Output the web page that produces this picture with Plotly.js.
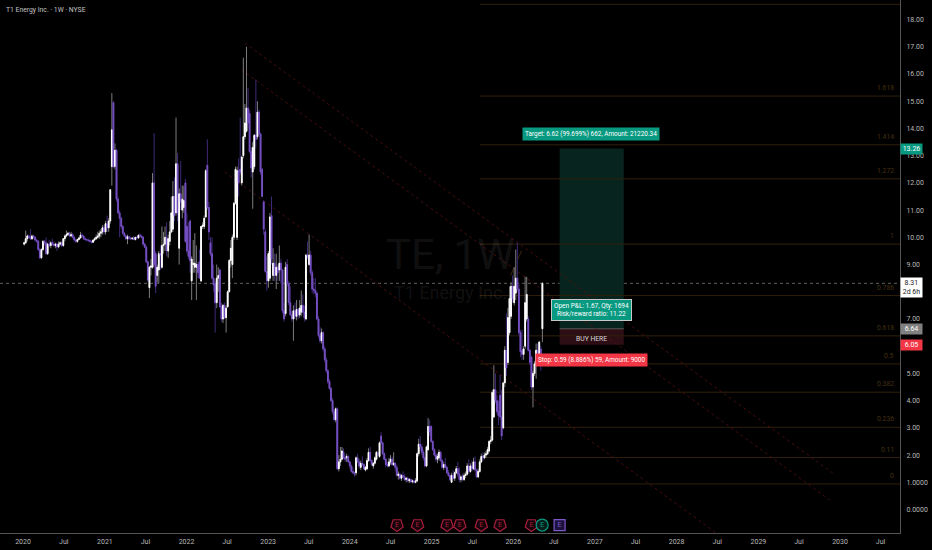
<!DOCTYPE html>
<html>
<head>
<meta charset="utf-8">
<title>T1 Energy Inc. - 1W - NYSE</title>
<script src="https://cdn.plot.ly/plotly-3.0.1.min.js"></script>
<style>
  html, body { margin: 0; padding: 0; background: #000; overflow: hidden; }
  #chart { width: 932px; height: 550px; }
</style>
</head>
<body>
<div id="chart"></div>
<script>
// Weekly candles, first one in the week of 2020-01-06
var firstWeek = '2020-01-06';

var opens = [
  9.75,9.8,9.95,10.05,10,9.95,10.05,10,9.9,9.85,
  9.55,9.25,9.55,9.85,9.8,9.4,9.75,9.7,9.8,9.75,
  9.7,9.75,9.65,9.75,9.8,9.7,9.95,10.05,10.1,10.15,
  10.05,10.1,10,9.9,9.85,9.92,9.98,10.08,10.05,9.95,
  9.92,9.9,9.88,9.85,9.82,9.9,9.95,10,10.05,10.15,
  10.2,10.35,10.2,10.5,10.35,10.6,12.6,14.95,12.6,13.2,
  11.4,10.9,10.7,10.4,10.15,10.05,9.95,10.02,9.98,9.95,
  9.97,9.92,10,9.98,10.08,10.05,10,9.75,9.64,9.1,
  8.15,8.9,8.9,12,9.4,8.6,8.8,9.4,8.9,9.7,
  9.75,10,9.5,9.85,10.2,10.3,11.5,10.9,12.7,9.6,
  11.6,11,11.1,12,10.4,9.5,10.6,8.4,9,8.9,
  8.9,9,9.1,8.4,10.4,10.4,10.75,12.65,11.1,9.8,
  9.4,8.5,8.3,7.6,8.5,8.8,7.45,7,7.5,7.05,
  7.45,8,9.15,9,10,11.25,10,12.45,12.5,12,
  13,13.7,13.9,14.75,14.55,13.15,12.4,12.6,13.75,13.7,
  14.6,13.8,12.5,11.3,10.2,8.75,8.4,8.5,10.8,8.6,
  9.05,8.6,8.9,8.8,9.05,8.8,7.3,7.2,9,8.3,
  7.6,7.15,7,7.3,7.1,7.35,7.15,7.25,7.5,7.25,
  7,9.35,9,9.35,8.7,8.1,8.05,7.95,7,6.4,
  6.2,6.5,5.9,5.5,5.1,4.7,4.45,4,3.6,3.3,
  3.7,1.5,1.75,1.85,2.1,1.9,1.9,1.95,1.75,1.6,
  1.4,1.35,1.35,1.9,1.75,1.55,1.7,1.65,1.45,1.5,
  1.8,2.1,1.8,1.6,1.7,1.85,2.05,1.95,2.7,2.45,
  2.05,1.85,1.65,1.6,1.75,1.85,1.65,1.7,1.55,1.25,
  1.3,1.15,1.25,1.2,1.1,1.15,1.05,1.1,1.02,1.05,
  1,1.05,2.05,2.4,2.3,2.1,1.9,1.6,2.2,3.05,
  3.05,2.5,2.2,2,1.85,1.9,2.1,1.8,1.55,1.65,
  1.55,1.35,1.25,1,1.25,1.15,1.35,1.5,1.3,1.1,
  1.2,1.1,1.25,1.3,1.6,1.4,1.6,1.5,1.75,1.45,
  1.2,1.4,1.75,1.95,1.9,2,2.05,2.15,2.5,2.55,
  3.4,4.4,4,3.6,4.2,3.4,3,4.65,5.85,5.4,
  6.5,7.1,8.2,7.6,7.95,8.5,8.1,6.5,5.85,5.7,
  6,7,7,5.85,5.6,4.5,5,5.3,5.85,5.6,
  5.9,6.64
];
var highs = [
  9.85,10.25,10.1,10.1,10.3,10.1,10.1,10.05,9.95,9.9,
  9.6,9.6,9.9,9.9,10,9.8,9.9,9.85,9.95,9.85,
  9.8,9.8,9.85,9.85,9.85,9.95,10.1,10.25,10.2,10.2,
  10.2,10.15,10.05,9.95,9.95,10,10.2,10.15,10.08,10,
  9.95,9.95,9.92,9.88,9.92,10,10.1,10.2,10.25,10.3,
  10.45,10.45,10.6,10.8,10.7,11.75,15.3,15,13.45,13.25,
  11.5,11,10.75,10.45,10.2,10.1,10.1,10.05,10.02,10,
  10.05,10.02,10.05,10.1,10.15,10.1,10.05,9.8,9.7,9.15,
  8.95,9.2,12.36,13.83,9.5,9,9.5,9.7,10.4,10.2,
  10.4,10.55,10.1,10.6,11.5,12.07,12.2,14.4,13.1,11.8,
  12.8,11.9,11.9,12.15,10.9,10.55,10.65,9.3,9.9,10.15,
  9.7,9.1,9.55,10.4,10.55,10.8,12.5,13.6,11.3,10,
  10,9,8.4,9,8.9,8.85,7.6,7.55,7.6,7.5,
  8.05,9.2,9.9,10.1,11.3,12.6,12.6,12.9,14.4,13,
  16.6,14.9,17,15.5,14.7,13.3,13.5,13.8,15.8,15,
  14.7,13.85,12.55,11.35,10.3,9.3,9.5,10.9,11.5,9.6,
  9.4,9.4,9,9.7,9.2,8.85,7.6,9.1,9.2,8.4,
  8.2,7.3,7.5,7.6,7.7,7.4,7.7,8.05,7.9,7.5,
  9.4,9.85,10.1,9.5,8.8,8.5,8.5,8,7.1,6.7,
  6.65,6.55,6,5.6,5.15,4.8,4.5,4.1,3.7,3.75,
  3.75,2,2.3,2.3,2.25,2,2.05,2,1.8,1.65,
  1.55,1.4,1.95,2.05,1.85,1.8,1.95,1.7,1.6,1.9,
  2.25,2.3,1.85,1.75,1.95,2.15,2.15,2.5,2.85,2.5,
  2.1,1.9,1.75,1.9,2,1.95,2.1,1.75,1.65,1.4,
  1.35,1.3,1.4,1.3,1.2,1.2,1.15,1.15,1.1,1.1,
  1.15,2.1,2.6,2.7,2.4,2.2,1.95,2.35,3.36,3.3,
  3.1,2.55,2.25,2.1,2.05,2.2,2.15,1.85,1.75,1.9,
  1.6,1.45,1.3,1.35,1.45,1.4,1.6,1.75,1.55,1.25,
  1.3,1.35,1.4,1.7,1.85,1.7,1.8,1.9,1.95,1.5,
  1.5,1.85,2.05,2.1,2.1,2.15,2.3,2.55,2.7,4.4,
  5.3,5,4.2,4,4.95,4.4,4.7,6,7.2,7.4,
  8.2,8.35,8.6,8.9,9.55,9.8,8.3,6.6,6.6,6,
  8.55,8.55,7.1,5.9,5.65,5.1,5.45,6.1,6.1,6.2,
  6,8.35
];
var lows = [
  9.7,9.75,9.85,9.95,9.9,9.9,9.95,9.85,9.8,9.5,
  9.2,9.2,9.5,9.7,9.35,9.35,9.65,9.6,9.7,9.65,
  9.6,9.5,9.6,9.7,9.65,9.65,9.85,10,10.05,10,
  10,9.95,9.85,9.8,9.8,9.9,9.95,10,9.9,9.88,
  9.85,9.84,9.8,9.78,9.8,9.85,9.9,9.95,9.95,10,
  10.1,10.1,10.1,10.2,10.2,10.5,11.9,12.55,12.5,11.3,
  10.85,10,10.3,10.1,10,9.9,9.75,9.9,9.9,9.9,
  9.9,9.88,9.92,9.95,10,9.95,9.7,9.6,9.05,8.35,
  7.77,8.6,8.85,8.9,7.95,8.35,8.3,8.8,8.85,9.4,
  9.5,9.3,9.25,9.7,10.15,10.2,10.6,10.8,10.6,9,
  11,10.7,10.9,9.8,9.4,9.2,8.7,7.7,8.7,8.7,
  7.7,8.5,8.5,8.35,10.3,10.3,10.7,11,9.9,9.3,
  8.45,8,6.5,7.4,8,7.4,6.9,6.85,7,6.5,
  7.4,8,8.9,8.5,9.9,11.2,9.9,11.5,12.3,11.9,
  12.9,13.6,13.85,14,13.1,12.2,11.05,12.5,13.3,13.6,
  13.7,12.3,11.5,10.1,8.7,8.05,8.15,8.4,9,8.4,
  8.4,8.1,8.4,8.4,8.3,7.2,6.9,7.1,8.2,7.5,
  7.1,6.9,6.2,7,6.95,7,7.05,7.1,7.2,6.9,
  6.95,9.2,8.95,8.6,7.95,7.9,7.8,6.95,6.3,6.1,
  6.1,5.8,5.4,5,4.6,4.4,3.95,3.5,3.25,3.2,
  1.45,1.4,1.6,1.8,1.85,1.75,1.75,1.7,1.5,1.35,
  1.3,1.2,1.25,1.7,1.5,1.45,1.6,1.45,1.4,1.45,
  1.75,1.75,1.6,1.5,1.65,1.8,1.95,1.9,2.4,2,
  1.8,1.55,1.55,1.55,1.65,1.6,1.6,1.4,1.2,1.1,
  1.1,1.05,1.15,1.05,1,1,0.97,0.98,0.96,0.97,
  0.96,1,1.95,2.15,2,1.8,1.55,1.55,2.15,2.7,
  2.45,2.15,1.95,1.75,1.7,1.8,1.75,1.5,1.45,1.5,
  1.3,1.2,1.05,0.97,1.1,1.05,1.3,1.2,1,1,
  1.05,1.05,1.15,1.25,1.3,1.35,1.4,1.45,1.4,1.15,
  1.15,1.35,1.7,1.8,1.85,1.9,2,2.1,2.4,2.5,
  3.35,3.9,3.5,3.1,3.3,2.55,2.95,4.5,4.9,5.3,
  6.4,7,7.6,7.5,7.7,8,6.4,5.6,5.5,5.5,
  5.9,6.9,5.8,5.3,4.4,3.75,4.9,4.8,5.5,5.5,
  5.1,6.15
];
var closes = [
  9.8,9.95,10.05,10,9.95,10.05,10,9.9,9.85,9.55,
  9.25,9.55,9.85,9.8,9.4,9.75,9.7,9.8,9.75,9.7,
  9.75,9.65,9.75,9.8,9.7,9.95,10.05,10.1,10.15,10.05,
  10.1,10,9.9,9.85,9.92,9.98,10.08,10.05,9.95,9.92,
  9.9,9.88,9.85,9.82,9.9,9.95,10,10.05,10.15,10.2,
  10.35,10.2,10.5,10.35,10.6,11.75,13.95,12.6,13.2,11.4,
  10.9,10.7,10.4,10.15,10.05,9.95,10.02,9.98,9.95,9.97,
  9.92,10,9.98,10.08,10.05,10,9.75,9.64,9.1,8.43,
  8.9,8.95,12,9,8.2,8.9,9.4,9.35,9.7,9.75,
  10,9.5,9.95,10.2,10.9,11.5,10.8,12.7,10.9,11.6,
  11.3,11.4,11.35,9.85,9.5,9.3,9.15,9.2,9.05,9.05,
  9,8.7,8.5,10.4,10.45,10.7,12.45,11.1,10.2,9.4,
  8.5,8.25,7.6,8.5,8.6,7.45,7,7.5,7.05,7.4,
  8,9.15,9.6,10,11.25,12.5,12.45,12,12.4,12.95,
  13.7,14.2,14.75,14.2,13.15,12.55,13.3,13.75,13.6,14.6,
  13.8,12.4,11.5,10.3,8.75,8.4,9.4,10.75,9.2,9.05,
  8.6,8.9,8.7,9.05,8.8,7.3,7,8.9,8.3,7.6,
  7.15,7,7.3,7.1,7.35,7.15,7.4,7.5,7.25,7.05,
  9.35,9.3,9.35,8.7,8.1,8.05,7.95,7,6.4,6.2,
  6.5,5.9,5.5,5.1,4.7,4.45,4,3.6,3.3,3.7,
  1.5,1.75,1.85,2.15,1.9,1.85,1.95,1.75,1.6,1.4,
  1.35,1.3,1.9,1.75,1.6,1.7,1.65,1.5,1.55,1.8,
  2.1,1.8,1.65,1.7,1.9,2.1,2.05,2.45,2.45,2.05,
  1.85,1.65,1.6,1.75,1.85,1.65,1.7,1.55,1.25,1.3,
  1.15,1.25,1.2,1.1,1.15,1.05,1.1,1.02,1.05,1,
  1.05,2.05,2.4,2.3,2.1,1.9,1.6,2.3,3.05,2.85,
  2.5,2.2,2,1.85,1.95,2.1,1.8,1.55,1.65,1.55,
  1.35,1.25,1.1,1.25,1.15,1.35,1.5,1.3,1.1,1.2,
  1.1,1.25,1.3,1.6,1.4,1.6,1.5,1.75,1.45,1.2,
  1.4,1.75,1.95,1.9,2,2.05,2.2,2.5,2.55,4.3,
  4.4,4,3.6,3.45,3.4,2.7,4.65,5.85,5.2,7.05,
  7.75,8.2,7.75,8.2,8.5,8.1,6.5,5.8,5.7,5.9,
  7.6,7.9,5.85,5.4,4.5,5,5.35,5.85,5.6,6.15,
  5.3,8.31
];

// Axis ticks (8.00 and 6.00 sit behind the price tags in the reference)
var yTickVals = [18,17,16,15,14,13,12,11,10,9,7,5,4,3,2,1,0];
var yTickText = ['18.00','17.00','16.00','15.00','14.00','13.00','12.00','11.00','10.00','9.00','7.00','5.00','4.00','3.00','2.00','1.0000','0.0000'];
var xTickVals = ['2020-01-01','2020-07-01','2021-01-01','2021-07-01','2022-01-01','2022-07-01','2023-01-01','2023-07-01','2024-01-01','2024-07-01','2025-01-01','2025-07-01','2026-01-01','2026-07-01','2027-01-01','2027-07-01','2028-01-01','2028-07-01','2029-01-01','2029-07-01','2030-01-01','2030-07-01'];
var xTickText = ['2020','Jul','2021','Jul','2022','Jul','2023','Jul','2024','Jul','2025','Jul','2026','Jul','2027','Jul','2028','Jul','2029','Jul','2030','Jul'];

// Fib retracement
var fibRatios = ['', '1.618', '1.414', '1.272', '1', '0.786', '0.618', '0.5', '0.382', '0.236', '0.11', '0'];
var fibPrices = [18.56, 15.19, 13.4, 12.15, 9.75, 7.86, 6.38, 5.35, 4.31, 3.02, 1.91, 0.94];

// Falling channel lines: start and end of each
var channelStart = ['2022-09-18', '2022-09-05', '2022-06-20'];
var channelStartPrice = [17.14, 16.15, 12.4];
var channelEnd = ['2029-11-29', '2029-11-16', '2028-06-25'];
var channelEndPrice = [1.34, 0.35, -0.86];

// Long position tool
var entryPrice = 6.64, targetPrice = 13.26, stopPrice = 6.05, lastPrice = 8.31;
var positionFrom = '2026-07-27', positionTo = '2027-05-10';

// Earnings markers
var earningsDates = ['2024-07-30','2024-10-30','2025-03-11','2025-05-07','2025-08-11','2025-11-03','2026-03-23'];
var dividendDate = ['2026-05-10'], nextEarningsDate = ['2026-07-27'];
var markerPrice = -0.57;

var FONT = 'Roboto, "Liberation Sans", sans-serif';

var weeks = [];
var d = new Date(firstWeek + 'T00:00:00Z');
for (var i = 0; i < closes.length; i++) {
  weeks.push(d.toISOString().slice(0, 10));
  d = new Date(d.getTime() + 7 * 86400000);
}

// Wicks are dimmer than the bodies, so two candle traces on top of each other
var wickTrace = {
  type: 'candlestick', x: weeks, open: opens, high: highs, low: lows, close: closes,
  whiskerwidth: 0, hoverinfo: 'skip', showlegend: false,
  increasing: { line: { color: '#7c7c7c', width: 1 }, fillcolor: '#7c7c7c' },
  decreasing: { line: { color: '#3f2a78', width: 1 }, fillcolor: '#3f2a78' }
};
var bodyTrace = {
  type: 'candlestick', x: weeks, open: opens, close: closes,
  high: opens.map(function (o, k) { return Math.max(o, closes[k]); }),
  low: opens.map(function (o, k) { return Math.min(o, closes[k]); }),
  whiskerwidth: 0, hoverinfo: 'skip', showlegend: false,
  increasing: { line: { color: '#ffffff', width: 1 }, fillcolor: '#ffffff' },
  decreasing: { line: { color: '#7650c0', width: 1 }, fillcolor: '#7650c0' }
};

function earningsTrace(x, symbol, color, fill, size) {
  return {
    type: 'scatter', mode: 'markers+text', x: x, y: x.map(function () { return markerPrice; }),
    text: x.map(function () { return 'E'; }), textposition: 'middle center',
    textfont: { family: FONT, size: 7, color: color },
    marker: { symbol: symbol, size: size, color: fill, angle: symbol.indexOf('pentagon') === 0 ? 180 : 0, line: { color: color, width: 1.2 } },
    hoverinfo: 'skip', showlegend: false, cliponaxis: false
  };
}

var traces = [
  wickTrace, bodyTrace,
  earningsTrace(earningsDates, 'pentagon', '#a81e3c', '#16040a', 13),
  earningsTrace(dividendDate, 'circle', '#089981', '#04201b', 12),
  earningsTrace(nextEarningsDate, 'square', '#7e57c8', '#1c1240', 11)
];

var shapes = [];
// position zones
shapes.push({ type: 'rect', layer: 'below', x0: positionFrom, x1: positionTo, y0: entryPrice, y1: targetPrice, fillcolor: '#08241e', line: { width: 0 } });
shapes.push({ type: 'rect', layer: 'below', x0: positionFrom, x1: positionTo, y0: stopPrice, y1: entryPrice, fillcolor: '#2c0e14', line: { width: 0 } });
shapes.push({ type: 'line', layer: 'below', x0: positionFrom, x1: positionTo, y0: entryPrice, y1: entryPrice, line: { color: '#5a5a5a', width: 1 } });
// fib levels
fibPrices.forEach(function (p) {
  shapes.push({ type: 'line', layer: 'below', xref: 'x', x0: '2025-08-04', x1: '2030-09-26', y0: p, y1: p, line: { color: '#30200c', width: 1 } });
});
// fib trend helper
shapes.push({ type: 'line', layer: 'below', x0: '2025-12-20', x1: '2026-02-20', y0: 8.6, y1: 9.75, line: { color: '#3a2a10', width: 1, dash: 'dash' } });
// channel
channelStart.forEach(function (s, k) {
  shapes.push({ type: 'line', layer: 'below', x0: s, x1: channelEnd[k], y0: channelStartPrice[k], y1: channelEndPrice[k], line: { color: '#561010', width: 0.8, dash: 'dot' } });
});
// last price line
shapes.push({ type: 'line', layer: 'below', xref: 'paper', x0: 0, x1: 1, y0: lastPrice, y1: lastPrice, line: { color: '#5f5f5f', width: 1, dash: 'dot' } });

function tag(text, price, bg, color) {
  return {
    xref: 'paper', yref: 'y', x: 1.0128, y: price, text: text, showarrow: false, xanchor: 'center', yanchor: 'middle',
    bgcolor: bg, width: 19, borderpad: 1, font: { family: FONT, size: 7, color: color }
  };
}

var annotations = [
  // watermark
  { xref: 'paper', yref: 'paper', x: 0.5, y: 0.5225, text: 'TE, 1W', showarrow: false, font: { family: FONT, size: 42, color: 'rgba(255,255,255,0.085)' } },
  { xref: 'paper', yref: 'paper', x: 0.5, y: 0.452, text: 'T1 Energy Inc.', showarrow: false, font: { family: FONT, size: 18, color: 'rgba(255,255,255,0.085)' } },
  // header
  { xref: 'paper', yref: 'paper', x: 0.0045, y: 0.992, xanchor: 'left', yanchor: 'top', text: 'T1 Energy Inc. · 1W · NYSE', showarrow: false, font: { family: FONT, size: 6.8, color: '#c4c4c4' } },
  // position labels
  { x: '2026-12-15', y: 13.81, text: 'Target: 6.62 (99.699%) 662, Amount: 21220.34', showarrow: false, bgcolor: '#089981', borderpad: 2, font: { family: FONT, size: 6.4, color: '#fff' } },
  { x: '2026-12-15', y: 7.32, text: 'Open P&L: 1.67, Qty: 1694<br>Risk/reward ratio: 11.22', showarrow: false, bgcolor: '#089981', bordercolor: '#c8c8c8', borderwidth: 1, borderpad: 2, font: { family: FONT, size: 6.5, color: '#fff' } },
  { x: '2026-12-15', y: 6.26, text: 'BUY HERE', showarrow: false, font: { family: FONT, size: 6.8, color: '#d8d8d8' } },
  { x: '2026-12-15', y: 5.51, text: 'Stop: 0.59 (8.886%) 59, Amount: 9000', showarrow: false, bgcolor: '#f23645', borderpad: 2, font: { family: FONT, size: 6.4, color: '#fff' } },
  // price tags
  tag('13.26', targetPrice, '#089981', '#fff'),
  tag('8.31<br>2d 6h', 8.155, '#ffffff', '#222'),
  tag('6.64', entryPrice, '#808080', '#fff'),
  tag('6.05', stopPrice, '#f23645', '#fff')
];
fibPrices.forEach(function (p, k) {
  if (fibRatios[k] === '') return;
  annotations.push({
    xref: 'paper', yref: 'y', x: 0.995, y: p, yshift: 2, xanchor: 'right', yanchor: 'bottom', text: fibRatios[k],
    showarrow: false, font: { family: FONT, size: 6.8, color: '#443010' }
  });
});

var layout = {
  width: 932, height: 550,
  margin: { l: 0, r: 32, t: 0, b: 17, pad: 0 },
  paper_bgcolor: '#000', plot_bgcolor: '#000',
  showlegend: false, dragmode: false,
  xaxis: {
    type: 'date', range: ['2019-09-20', '2030-09-26'], rangeslider: { visible: false },
    tickmode: 'array', tickvals: xTickVals, ticktext: xTickText,
    tickfont: { family: FONT, size: 7, color: '#b8b8b8' },
    showgrid: false, zeroline: false, showline: true, linecolor: '#555', linewidth: 1,
    ticks: 'outside', ticklen: 2, tickcolor: '#000', fixedrange: true
  },
  yaxis: {
    side: 'right', range: [-0.863, 18.72],
    tickmode: 'array', tickvals: yTickVals, ticktext: yTickText,
    tickfont: { family: FONT, size: 7, color: '#b8b8b8' },
    showgrid: false, zeroline: false, showline: true, linecolor: '#555', linewidth: 1,
    ticks: 'outside', ticklen: 4, tickcolor: '#000', fixedrange: true
  },
  shapes: shapes,
  annotations: annotations
};

Plotly.newPlot('chart', traces, layout, { displayModeBar: false, responsive: false });
</script>
</body>
</html>
